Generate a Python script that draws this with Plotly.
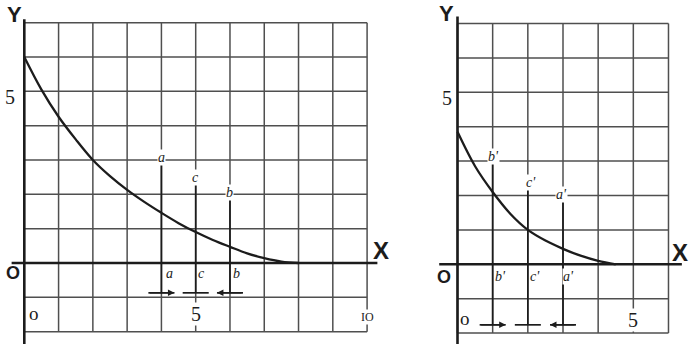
import plotly.graph_objects as go

# ---- data ----
# left figure: curve from (0,6) to (8,0)
left_curve_x = [0, 0.5, 1, 1.5, 2, 2.5, 3, 3.5, 4, 4.5, 5, 5.5, 6, 6.5, 7, 7.5, 8]
left_curve_y = [6.0, 5.05, 4.26, 3.6, 3.0, 2.53, 2.13, 1.78, 1.46, 1.16, 0.9, 0.67, 0.47, 0.28, 0.14, 0.04, 0.0]
# right figure: curve from (0,3.85) to (4.5,0)
right_curve_x = [0, 0.5, 1, 1.5, 2, 2.5, 3, 3.5, 4, 4.5]
right_curve_y = [3.85, 2.85, 2.1, 1.47, 1.0, 0.69, 0.45, 0.25, 0.1, 0.0]

left_lines_x = [4, 5, 6]
left_lines_top = [2.9, 2.3, 1.88]
left_names = ["a", "c", "b"]
left_base = -0.87

right_lines_x = [1, 2, 3]
right_lines_top = [2.92, 2.22, 1.85]
right_names = ["b'", "c'", "a'"]
right_base = -1.76

left_grid_x = list(range(0, 11))
right_grid_x = list(range(0, 7))
grid_y = list(range(-2, 8))

left_ticks = [("o", 0.27, -1.46), ("5", 5, -1.5), ("10", 10.0, -1.57)]
right_ticks = [("o", 0.22, -1.58), ("5", 5, -1.62)]

INK = "#1c1c1c"
GRID = "#4f4f4f"
SERIF = "Liberation Serif"
SANS = "Liberation Sans"


def grid_trace(xs, ys, xa, ya):
    gx, gy = [], []
    for x in xs:
        gx += [x, x, None]
        gy += [ys[0], ys[-1], None]
    for y in ys:
        gx += [xs[0], xs[-1], None]
        gy += [y, y, None]
    return go.Scatter(x=gx, y=gy, mode="lines", line=dict(color=GRID, width=1.5),
                      xaxis=xa, yaxis=ya, hoverinfo="skip", showlegend=False)


def panel(fig, xa, ya, grid_xs, cx, cy, lx, ltop, names, base, ticks,
          xaxis_span, yaxis_span, top_lab, bot_lab, seg):
    fig.add_trace(grid_trace(grid_xs, grid_y, xa, ya))
    # axes
    fig.add_trace(go.Scatter(x=[xaxis_span[0], xaxis_span[1], None, 0, 0],
                             y=[0, 0, None, yaxis_span[0], yaxis_span[1]],
                             mode="lines", line=dict(color=INK, width=2.6),
                             xaxis=xa, yaxis=ya, hoverinfo="skip", showlegend=False))
    # curve
    fig.add_trace(go.Scatter(x=cx, y=cy, mode="lines", line=dict(color=INK, width=2.3, shape="spline"),
                             xaxis=xa, yaxis=ya, hoverinfo="skip", showlegend=False))
    # vertical ordinates and the bars at their feet
    vx, vy = [], []
    for x, t in zip(lx, ltop):
        vx += [x, x, None]
        vy += [base, t, None]
    mid = lx[1]
    vx += [mid - seg, mid + seg, None, lx[0] - seg, lx[0] + seg, None, lx[2] - seg, lx[2] + seg]
    vy += [base, base, None, base, base, None, base, base]
    fig.add_trace(go.Scatter(x=vx, y=vy, mode="lines", line=dict(color=INK, width=1.7),
                             xaxis=xa, yaxis=ya, hoverinfo="skip", showlegend=False))
    # arrowheads: first points right, last points left
    fig.add_annotation(x=lx[0] + seg, y=base, ax=lx[0] - seg, ay=base, xref=xa, yref=ya,
                       axref=xa, ayref=ya, showarrow=True, arrowhead=2, arrowsize=1.0,
                       arrowwidth=1.3, arrowcolor=INK, text="")
    fig.add_annotation(x=lx[2] - seg, y=base, ax=lx[2] + seg, ay=base, xref=xa, yref=ya,
                       axref=xa, ayref=ya, showarrow=True, arrowhead=2, arrowsize=1.0,
                       arrowwidth=1.3, arrowcolor=INK, text="")
    # letters at the tops and under the axis
    for (x, y), n in zip(top_lab + bot_lab, names + names):
        fig.add_annotation(x=x, y=y, xref=xa, yref=ya, text="<i>" + n + "</i>", showarrow=False,
                           font=dict(family=SERIF, size=14, color=INK), bgcolor="white", borderpad=0)
    for t, x, y in ticks:
        size = 20 if t == "5" else 19
        if t == "10":
            t, size = "IO", 12
        fig.add_annotation(x=x, y=y, xref=xa, yref=ya, text=t, showarrow=False,
                           font=dict(family=SERIF, size=size, color=INK), bgcolor="white", borderpad=0)


fig = go.Figure()

panel(fig, "x", "y", left_grid_x, left_curve_x, left_curve_y, left_lines_x, left_lines_top,
      left_names, left_base, left_ticks, (-0.37, 10.3), (-2.36, 7.1),
      [(4, 3.08), (5, 2.5), (6, 2.05)], [(4.25, -0.3), (5.17, -0.3), (6.2, -0.3)], 0.38)
panel(fig, "x2", "y2", right_grid_x, right_curve_x, right_curve_y, right_lines_x, right_lines_top,
      right_names, right_base, right_ticks, (-0.52, 6.38), (-2.32, 7.2),
      [(1.03, 3.13), (2.08, 2.37), (2.97, 2.02)], [(1.22, -0.36), (2.2, -0.36), (3.15, -0.36)], 0.37)

# axis letters
for xa, ya, items in [("x", "y", [("Y", -0.3, 7.23, 22), ("X", 10.4, 0.35, 24), ("O", -0.34, -0.29, 18),
                                  ("5", -0.42, 4.83, 20)]),
                      ("x2", "y2", [("Y", -0.3, 7.3, 22), ("X", 6.33, 0.34, 24), ("O", -0.38, -0.36, 18),
                                    ("5", -0.3, 4.83, 20)])]:
    for t, x, y, s in items:
        fam = SERIF if t == "5" else SANS
        txt = t if t == "5" else "<b>" + t + "</b>"
        fig.add_annotation(x=x, y=y, xref=xa, yref=ya, text=txt, showarrow=False,
                           font=dict(family=fam, size=s, color=INK))

W, H = 691, 344
ax_style = dict(visible=False, fixedrange=True)
fig.update_layout(
    width=W, height=H, margin=dict(l=0, r=0, t=0, b=0),
    paper_bgcolor="white", plot_bgcolor="white", showlegend=False,
    xaxis=dict(domain=[0, 400 / W], range=[-0.709, 10.96], **ax_style),
    yaxis=dict(domain=[0, 1], range=[-2.36, 7.66], **ax_style),
    xaxis2=dict(domain=[400 / W, 1], range=[-1.635, 6.64], anchor="y2", **ax_style),
    yaxis2=dict(domain=[0, 1], range=[-2.317, 7.683], anchor="x2", **ax_style),
)

fig.write_html("out.html", config=dict(displayModeBar=False),
               post_script="document.body.style.margin='0';")
